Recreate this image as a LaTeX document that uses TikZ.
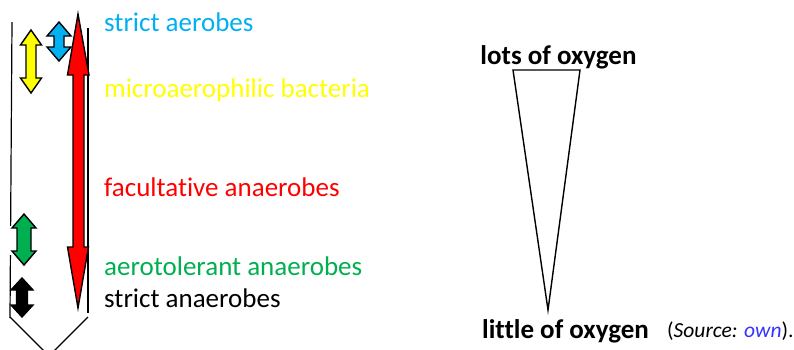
\documentclass[tikz,border=0pt]{standalone}
\usepackage{fontspec}
\setmainfont[Ligatures=NoCommon]{Carlito}
\definecolor{cyanT}{RGB}{0,176,240}
\definecolor{yelT}{RGB}{255,255,0}
\definecolor{redT}{RGB}{255,0,0}
\definecolor{greenT}{RGB}{0,176,80}
\definecolor{linkT}{RGB}{51,51,255}
\newcommand{\dblarr}[7]{% x, ytop, ybot, headhalf, shafthalf, headlen, color
  \filldraw[fill=#7,draw=black,line width=1.4pt,line join=miter]
   (#1,#2) -- (#1+#4,#2+#6) -- (#1+#5,#2+#6) -- (#1+#5,#3-#6) -- (#1+#4,#3-#6)
   -- (#1,#3) -- (#1-#4,#3-#6) -- (#1-#5,#3-#6) -- (#1-#5,#2+#6) -- (#1-#4,#2+#6) -- cycle;}
\tikzset{lbl/.style={anchor=west,inner sep=0pt,font=\fontsize{27}{32}\selectfont},
  blbl/.style={inner sep=0pt,font=\fontsize{27}{32}\selectfont\bfseries},
  tube/.style={line width=1.2pt}}
\begin{document}
\begin{tikzpicture}[x=1pt,y=-1pt]
\useasboundingbox (0,0) rectangle (794,349);
% tube
\draw[tube] (12,22) -- (10,318);
\draw[tube] (88,28) -- (88,313);
\draw[tube] (10,317) -- (45,352);
\draw[tube] (88,317) -- (53,352);
% arrows
\dblarr{31}{30}{93}{10.5}{5}{15}{yelT}
\dblarr{59}{22}{61}{12}{5}{14}{cyanT}
\filldraw[fill=redT,draw=black,line width=1.4pt]
  (78,14) -- (89,75) -- (84,75) -- (84,247) -- (88.5,247) -- (78,308) -- (67.5,247) -- (73,247) -- (73,75) -- (67.5,75) -- cycle;
\fill[white] (9,226) rectangle (16,255);
\dblarr{24}{214}{265}{12}{7}{14}{greenT}
\dblarr{22}{278}{317}{11}{5.5}{12}{black}
% labels
\node[lbl,text=cyanT] (sa) at (104,22) {strict aerobes};
\node[lbl,text=yelT] (mb) at (104,90) {microaerophilic bacteria};
\node[lbl,text=redT] (fa) at (104,187) {facultative anaerobes};
\node[lbl,text=greenT] (aa) at (104,266) {aerotolerant anaerobes};
\node[lbl] (sn) at (104,298) {strict anaerobes};
% triangle
\coordinate (tl) at (513,70);
\coordinate (tr) at (580,70);
\coordinate (tb) at (548,310);
\draw[line width=1.4pt,line join=miter] (tl) -- (tr) -- (tb) -- cycle;
\node[blbl] (lots) at (558.5,57) {lots of oxygen};
\node[blbl,anchor=west] (little) at (482,331) {little of oxygen};
\node[lbl,font=\fontsize{21.5}{25}\selectfont] (src) at (667,331) {(\textit{Source:} \textit{\textcolor{linkT}{own}}).};
\end{tikzpicture}
\end{document}
